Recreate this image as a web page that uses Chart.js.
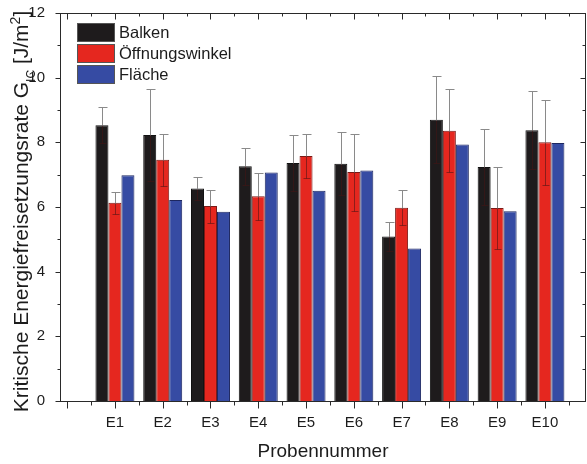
<!DOCTYPE html>
<html>
<head>
<meta charset="utf-8">
<script src="https://cdn.jsdelivr.net/npm/chart.js@4.4.0/dist/chart.umd.min.js"></script>
<style>
  html, body { margin: 0; padding: 0; background: #fff; }
</style>
</head>
<body>
<canvas id="myChart" width="587" height="464"></canvas>
<script>
// Probennamen und Messwerte (G_IC in J/m²)
const proben = ['E1', 'E2', 'E3', 'E4', 'E5', 'E6', 'E7', 'E8', 'E9', 'E10'];
const balken = [8.53, 8.23, 6.57, 7.26, 7.36, 7.34, 5.09, 8.70, 7.24, 8.37];
const balkenFehler = [0.56, 1.43, 0.35, 0.57, 0.88, 0.97, 0.45, 1.35, 1.18, 1.21];
const oeffnung = [6.13, 7.46, 6.03, 6.33, 7.58, 7.08, 5.98, 8.36, 5.97, 8.00];
const oeffnungFehler = [0.34, 0.80, 0.51, 0.72, 0.67, 1.19, 0.55, 1.29, 1.27, 1.32];
const flaeche = [6.98, 6.22, 5.85, 7.07, 6.50, 7.13, 4.72, 7.93, 5.87, 7.98];
const yTicks = [0, 2, 4, 6, 8, 10, 12];

const schrift = '"Liberation Sans", Arial, Helvetica, sans-serif';
const textFarbe = '#1c1c1c';

const punkte = (werte) => werte.map((v, i) => ({ x: i + 1, y: v }));

// Fehlerbalken: oberhalb grau, innerhalb des Balkens dunkel
const fehlerbalken = {
  id: 'fehlerbalken',
  afterDatasetsDraw(chart) {
    const { ctx, scales: { y } } = chart;
    ctx.save();
    ctx.lineWidth = 1;
    chart.data.datasets.forEach((ds, di) => {
      if (!ds.fehler) return;
      const meta = chart.getDatasetMeta(di);
      meta.data.forEach((bar, i) => {
        const v = ds.data[i].y;
        const e = ds.fehler[i];
        const x = Math.round(bar.x) + 0.5;
        const oben = Math.round(y.getPixelForValue(v + e)) + 0.5;
        const mitte = Math.round(y.getPixelForValue(v)) + 0.5;
        const unten = Math.round(y.getPixelForValue(v - e)) + 0.5;
        ctx.strokeStyle = '#8a8a8a';
        ctx.beginPath();
        ctx.moveTo(x, oben); ctx.lineTo(x, mitte);
        ctx.moveTo(x - 4, oben); ctx.lineTo(x + 5, oben);
        ctx.stroke();
        ctx.strokeStyle = 'rgba(70,20,20,0.55)';
        ctx.beginPath();
        ctx.moveTo(x, mitte); ctx.lineTo(x, unten);
        ctx.moveTo(x - 3, unten); ctx.lineTo(x + 4, unten);
        ctx.stroke();
      });
    });
    ctx.restore();
  }
};

// Rahmen, Teilstriche, Legende und y-Achsentitel
const rahmen = {
  id: 'rahmen',
  afterDraw(chart) {
    const { ctx, chartArea: a, scales: { x, y } } = chart;
    const L = Math.round(a.left) + 0.5, R = Math.round(a.right) - 0.5;
    const T = Math.round(a.top) + 0.5, B = Math.round(a.bottom) + 0.5;
    ctx.save();
    ctx.strokeStyle = '#2a2a2a';
    ctx.lineWidth = 1;
    ctx.strokeRect(L, T, R - L, B - T);

    ctx.beginPath();
    for (let v = 0; v <= 10.5; v += 0.5) {
      const px = Math.round(x.getPixelForValue(v)) + 0.5;
      const lang = Number.isInteger(v);
      ctx.moveTo(px, B); ctx.lineTo(px, B + (lang ? 7 : 4));
      ctx.moveTo(px, T); ctx.lineTo(px, T + (lang ? 6 : 3));
    }
    for (let v = 0; v <= 12; v += 1) {
      const py = Math.round(y.getPixelForValue(v)) + 0.5;
      const lang = v % 2 === 0;
      ctx.moveTo(L, py); ctx.lineTo(L - (lang ? 5 : 3), py);
      ctx.moveTo(R, py); ctx.lineTo(R - (lang ? 5 : 3), py);
    }
    ctx.stroke();

    // Legende
    ctx.font = '16.5px ' + schrift;
    ctx.textBaseline = 'middle';
    ctx.textAlign = 'left';
    chart.data.datasets.forEach((ds, i) => {
      const by = 23 + i * 21;
      ctx.fillStyle = ds.backgroundColor;
      ctx.fillRect(77, by, 38, 19);
      ctx.strokeStyle = '#555';
      ctx.strokeRect(77.5, by + 0.5, 37, 18);
      ctx.fillStyle = textFarbe;
      ctx.fillText(ds.label, 119, by + 10);
    });

    // y-Achsentitel mit Index und Exponent
    const teile = [
      { t: 'Kritische Energiefreisetzungsrate G', f: 21, dy: 0 },
      { t: 'IC', f: 12, dy: 6.5 },
      { t: ' [J/m', f: 21, dy: 0 },
      { t: '2', f: 14, dy: -8 },
      { t: ']', f: 21, dy: 0 }
    ];
    let breite = 0;
    teile.forEach(p => { ctx.font = p.f + 'px ' + schrift; p.w = ctx.measureText(p.t).width; breite += p.w; });
    ctx.translate(28, 211.5);
    ctx.rotate(-Math.PI / 2);
    ctx.fillStyle = textFarbe;
    ctx.textBaseline = 'alphabetic';
    let cx = -breite / 2;
    teile.forEach(p => {
      ctx.font = p.f + 'px ' + schrift;
      ctx.fillText(p.t, cx, p.dy);
      cx += p.w;
    });
    ctx.restore();
  }
};

const ctx = document.getElementById('myChart');
new Chart(ctx, {
  type: 'bar',
  data: {
    datasets: [
      {
        label: 'Balken',
        data: punkte(balken),
        fehler: balkenFehler,
        backgroundColor: '#1e1b1c',
        borderColor: '#111111',
        borderWidth: 1
      },
      {
        label: 'Öffnungswinkel',
        data: punkte(oeffnung),
        fehler: oeffnungFehler,
        backgroundColor: '#e5271f',
        borderColor: '#7a1a16',
        borderWidth: 1
      },
      {
        label: 'Fläche',
        data: punkte(flaeche),
        backgroundColor: '#364ba3',
        borderColor: '#1d2760',
        borderWidth: 1
      }
    ]
  },
  options: {
    responsive: false,
    animation: false,
    devicePixelRatio: 1,
    layout: { padding: { top: 13, right: 1, left: 0, bottom: 0 } },
    plugins: { legend: { display: false }, tooltip: { enabled: false } },
    datasets: { bar: { categoryPercentage: 0.816, barPercentage: 1 } },
    scales: {
      x: {
        type: 'linear',
        offset: false,
        min: -0.15,
        max: 10.86,
        grid: { display: false },
        border: { display: false },
        afterBuildTicks: (s) => { s.ticks = proben.map((p, i) => ({ value: i + 1 })); },
        afterFit: (s) => { s.height = 63; s.paddingLeft = 0; s.paddingRight = 0; },
        ticks: {
          autoSkip: false,
          maxRotation: 0,
          padding: 5,
          color: textFarbe,
          font: { size: 15, family: schrift },
          callback: (v) => proben[Math.round(v) - 1]
        },
        title: {
          display: true,
          text: 'Probennummer',
          color: textFarbe,
          font: { size: 19, family: schrift },
          padding: { top: 0, bottom: 1 }
        }
      },
      y: {
        min: 0,
        max: 12,
        grid: { display: false },
        border: { display: false },
        afterBuildTicks: (s) => { s.ticks = yTicks.map(v => ({ value: v })); },
        afterFit: (s) => { s.width = 60; s.paddingTop = 0; s.paddingBottom = 0; },
        ticks: {
          padding: 7,
          color: textFarbe,
          font: { size: 15, family: schrift }
        }
      }
    }
  },
  plugins: [fehlerbalken, rahmen]
});
</script>
</body>
</html>
